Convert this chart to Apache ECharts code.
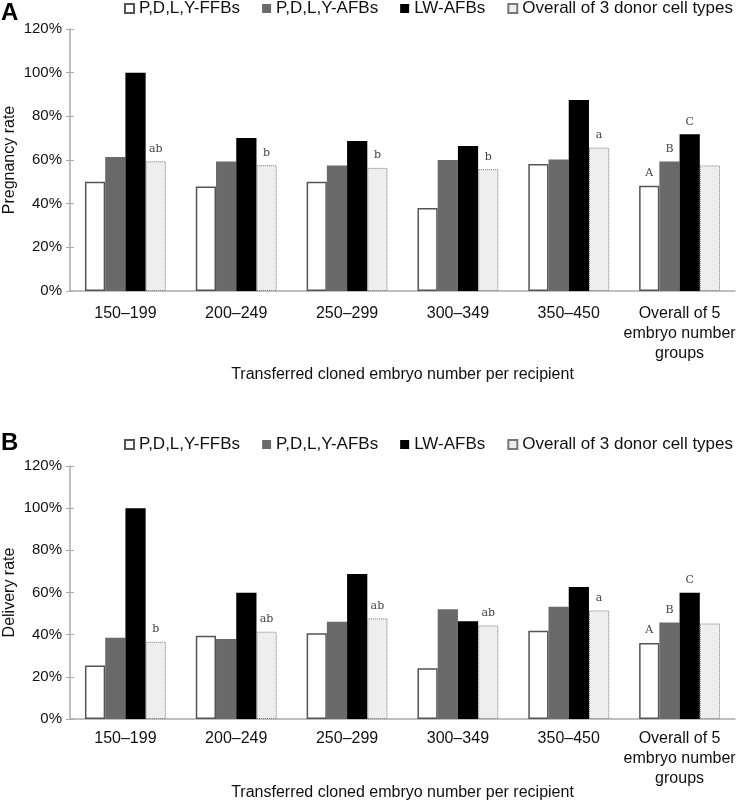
<!DOCTYPE html>
<html><head><meta charset="utf-8">
<script src="https://cdn.jsdelivr.net/npm/echarts@6/dist/echarts.min.js"></script>
<style>html,body{margin:0;padding:0;background:#fff}#c{width:742px;height:802px}</style>
</head><body><div id="c"></div>
<script>
const categories = ['150–199','200–249','250–299','300–349','350–450','Overall of 5\nembryo number\ngroups'];
const seriesNames = ['P,D,L,Y-FFBs','P,D,L,Y-AFBs','LW-AFBs','Overall of 3 donor cell types'];
const yTicks = [0,20,40,60,80,100,120];

// Panel A: pregnancy rate (%)
const pregFFB = [50.0, 47.9, 50.0, 38.0, 58.2, 48.2];
const pregAFB = [61.4, 59.3, 57.5, 60.0, 60.2, 59.3];
const pregLW  = [100, 70.1, 68.7, 66.4, 87.5, 71.8];
const pregAll = [59.4, 57.6, 56.4, 55.8, 65.7, 57.5];
const pregLetterFFB = ['','','','','','A'];
const pregLetterAFB = ['','','','','','B'];
const pregLetterLW  = ['','','','','','C'];
const pregLetterAll = ['ab','b','b','b','a',''];

// Panel B: delivery rate (%)
const delFFB = [25.4, 39.5, 40.7, 24.1, 41.8, 36.0];
const delAFB = [38.5, 38.0, 46.1, 52.0, 53.3, 45.8];
const delLW  = [100, 59.9, 68.8, 46.4, 62.6, 59.9];
const delAll = [36.6, 41.4, 47.7, 44.4, 51.5, 45.3];
const delLetterFFB = ['','','','','','A'];
const delLetterAFB = ['','','','','','B'];
const delLetterLW  = ['','','','','','C'];
const delLetterAll = ['b','ab','ab','ab','a',''];

const FONT = 'Liberation Sans, Arial, sans-serif';
const styles = [
  {color:'#ffffff', borderColor:'#555555', borderWidth:1.5, borderType:'solid'},
  {color:'#6a6a6a', borderColor:'#6a6a6a', borderWidth:0, borderType:'solid'},
  {color:'#000000', borderColor:'#000000', borderWidth:0, borderType:'solid'},
  {color:'#eeeeee', borderColor:'#777777', borderWidth:1, borderType:'dotted'}
];

function mk(vals, letters, idx, gi) {
  return {
    name: seriesNames[idx], type:'bar', xAxisIndex:gi, yAxisIndex:gi,
    barGap:'0%', barCategoryGap:'27%',
    itemStyle: styles[idx],
    data: vals.map((v,i)=>({value:v, label:{show: letters[i]!=='', formatter: letters[i]}})),
    label:{show:true, position:'top', distance:7, color:'#444', fontSize:11, fontFamily:'DejaVu Serif, serif'}
  };
}

const grids = [
  {left:70, right:7, top:29, height:262, outerBoundsMode:'none', containLabel:false},
  {left:70, right:7, top:466, height:253, outerBoundsMode:'none', containLabel:false}
];
const axisNames = ['Pregnancy rate','Delivery rate'];
const nameGaps = [76, 66];
const labelMargins = [13, 10];

const chart = echarts.init(document.getElementById('c'), null, {renderer:'canvas'});
const xAxis = [], yAxis = [];
[0,1].forEach(gi=>{
  xAxis.push({type:'category', gridIndex:gi, data:categories,
    axisLine:{lineStyle:{color:'#aaaaaa', width:1.5}}, axisTick:{show:false},
    axisLabel:{color:'#111', fontSize:16, fontFamily:FONT, margin:labelMargins[gi], lineHeight:20, interval:0},
    name:'Transferred cloned embryo number per recipient', nameLocation:'middle', nameGap: nameGaps[gi],
    nameMoveOverlap:false,
    nameTextStyle:{color:'#111', fontSize:16, fontFamily:FONT}});
});
[0,1].forEach(gi=>{
  yAxis.push({type:'value', gridIndex:gi, position:'left', min:yTicks[0], max:yTicks[yTicks.length-1], interval:20,
    axisLine:{show:true, lineStyle:{color:'#aaaaaa', width:1.5}},
    axisTick:{show:true, length:4, lineStyle:{color:'#aaaaaa'}},
    splitLine:{show:false},
    axisLabel:{formatter: v=>v+'%', color:'#111', fontSize:15, fontFamily:FONT, margin:8},
    name:axisNames[gi], nameLocation:'middle', nameGap:52, nameRotate:90, nameMoveOverlap:false,
    nameTextStyle:{color:'#111', fontSize:16, fontFamily:FONT}});
});
// inner halves of the crossing tick marks
[0,1].forEach(gi=>{
  yAxis.push({type:'value', gridIndex:gi, position:'left', offset:0, min:yTicks[0], max:yTicks[yTicks.length-1], interval:20,
    axisLine:{show:false}, axisTick:{show:true, inside:true, length:4, lineStyle:{color:'#aaaaaa'}},
    axisLabel:{show:false}, splitLine:{show:false}});
});

const legendCommon = {data:seriesNames, icon:'rect', itemWidth:9, itemHeight:9, itemGap:22,
  textStyle:{color:'#111', fontSize:17, fontFamily:FONT}, selectedMode:false, padding:0};

chart.setOption({
  animation:false,
  textStyle:{fontFamily:FONT},
  graphic:[
    {type:'text', left:1, top:1, style:{text:'A', font:'bold 24px Liberation Sans, Arial', fill:'#000'}},
    {type:'text', left:1, top:431, style:{text:'B', font:'bold 24px Liberation Sans, Arial', fill:'#000'}}
  ],
  legend:[
    Object.assign({left:124, top:0}, legendCommon),
    Object.assign({left:124, top:436}, legendCommon)
  ],
  grid:grids, xAxis:xAxis, yAxis:yAxis,
  series:[
    mk(pregFFB, pregLetterFFB, 0, 0), mk(pregAFB, pregLetterAFB, 1, 0),
    mk(pregLW, pregLetterLW, 2, 0), mk(pregAll, pregLetterAll, 3, 0),
    mk(delFFB, delLetterFFB, 0, 1), mk(delAFB, delLetterAFB, 1, 1),
    mk(delLW, delLetterLW, 2, 1), mk(delAll, delLetterAll, 3, 1)
  ]
});
</script></body></html>
